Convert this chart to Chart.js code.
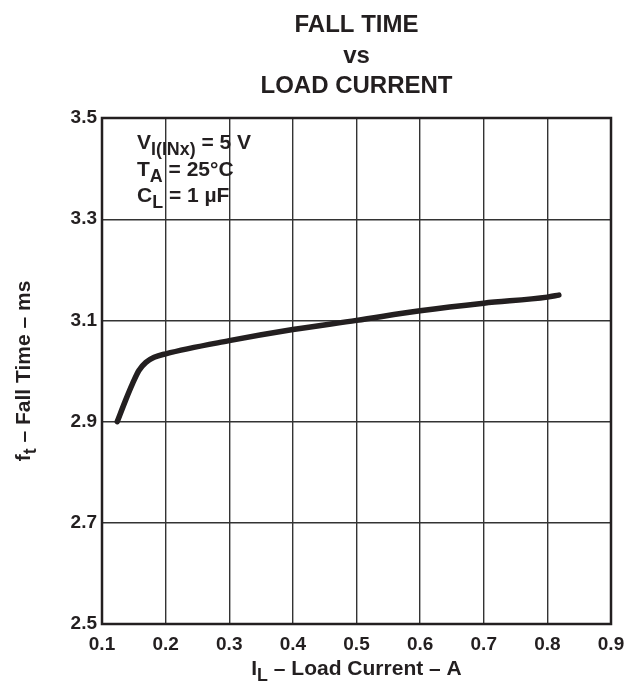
<!DOCTYPE html>
<html>
<head>
<meta charset="utf-8">
<script src="https://cdn.jsdelivr.net/npm/chart.js@4"></script>
<style>
  body { margin: 0; background: #fff; }
  #wrap { width: 624px; height: 683px; }
</style>
</head>
<body>
<div id="wrap"><canvas id="chart"></canvas></div>
<script>
// values
const loadCurrent = [0.124, 0.137, 0.148, 0.158, 0.169, 0.182, 0.2, 0.3, 0.4, 0.5, 0.6, 0.7, 0.8, 0.818]
const fallTime    = [2.900, 2.942, 2.975, 3.001, 3.017, 3.027, 3.034, 3.060, 3.082, 3.100, 3.119, 3.134, 3.146, 3.150]

const titleLines = ['FALL TIME', 'vs', 'LOAD CURRENT']
const xTicks = [0.1, 0.2, 0.3, 0.4, 0.5, 0.6, 0.7, 0.8, 0.9]
const yTicks = [2.5, 2.7, 2.9, 3.1, 3.3, 3.5]

const ink = '#231f20'
const FONT = '"Liberation Sans", Arial, sans-serif'

// draw text made of pieces, some of them subscript
function richText(ctx, parts, x, y, size, align) {
    let w = 0
    parts.forEach(p => {
        ctx.font = 'bold ' + (p.sub ? size * 0.85 : size) + 'px ' + FONT
        w += ctx.measureText(p.t).width
    })
    let cx = align === 'center' ? x - w / 2 : x
    parts.forEach(p => {
        ctx.font = 'bold ' + (p.sub ? size * 0.85 : size) + 'px ' + FONT
        ctx.fillText(p.t, cx, p.sub ? y + size * 0.3 : y)
        cx += ctx.measureText(p.t).width
    })
}

const textPlugin = {
    id: 'textPlugin',
    afterDraw(chart) {
        const ctx = chart.ctx
        const a = chart.chartArea
        const mid = (a.left + a.right) / 2
        ctx.save()
        ctx.fillStyle = ink
        ctx.textBaseline = 'alphabetic'

        // frame round the plot
        ctx.strokeStyle = ink
        ctx.lineWidth = 2.5
        ctx.strokeRect(a.left, a.top, a.right - a.left, a.bottom - a.top)

        // title
        ctx.textAlign = 'center'
        ctx.font = 'bold 24px ' + FONT
        ctx.fillText(titleLines[0], mid, 32)
        ctx.fillText(titleLines[1], mid, 63)
        ctx.fillText(titleLines[2], mid, 93)

        // conditions box
        ctx.textAlign = 'left'
        richText(ctx, [{t: 'V'}, {t: 'I(INx)', sub: true}, {t: ' = 5 V'}], 137, 149, 21)
        richText(ctx, [{t: 'T'}, {t: 'A', sub: true}, {t: ' = 25°C'}], 137, 176, 21)
        richText(ctx, [{t: 'C'}, {t: 'L', sub: true}, {t: ' = 1 µF'}], 137, 202, 21)

        // x axis title
        richText(ctx, [{t: 'I'}, {t: 'L', sub: true}, {t: ' – Load Current – A'}], mid, 675, 21, 'center')

        // y axis title
        ctx.translate(30, (a.top + a.bottom) / 2)
        ctx.rotate(-Math.PI / 2)
        richText(ctx, [{t: 'f'}, {t: 't', sub: true}, {t: ' – Fall Time – ms'}], 0, 0, 21, 'center')
        ctx.restore()
    }
}

const points = loadCurrent.map((x, i) => ({x: x, y: fallTime[i]}))

new Chart(document.getElementById('chart'), {
    type: 'scatter',
    data: {
        datasets: [{
            data: points,
            showLine: true,
            borderColor: ink,
            borderWidth: 5.5,
            pointRadius: 0,
            cubicInterpolationMode: 'monotone',
            borderCapStyle: 'round'
        }]
    },
    options: {
        responsive: true,
        maintainAspectRatio: false,
        animation: false,
        layout: { padding: { top: 118, right: 13, left: 0, bottom: 0 } },
        plugins: { legend: { display: false }, tooltip: { enabled: false } },
        scales: {
            x: {
                type: 'linear',
                min: 0.1,
                max: 0.9,
                afterFit: s => { s.height = 59; s.paddingLeft = 0; s.paddingRight = 0 },
                afterBuildTicks: s => { s.ticks = xTicks.map(v => ({value: v})) },
                grid: { color: '#333', lineWidth: 1.4, drawTicks: false },
                border: { display: false },
                ticks: {
                    padding: 9,
                    color: ink,
                    font: { family: FONT, size: 19, weight: 'bold' },
                    callback: v => v.toFixed(1)
                }
            },
            y: {
                min: 2.5,
                max: 3.5,
                afterFit: s => { s.width = 102; s.paddingTop = 0; s.paddingBottom = 0 },
                afterBuildTicks: s => { s.ticks = yTicks.map(v => ({value: v})) },
                grid: { color: '#333', lineWidth: 1.4, drawTicks: false },
                border: { display: false },
                ticks: {
                    padding: 5,
                    color: ink,
                    font: { family: FONT, size: 19, weight: 'bold' },
                    callback: v => v.toFixed(1)
                }
            }
        }
    },
    plugins: [textPlugin]
})
</script>
</body>
</html>
